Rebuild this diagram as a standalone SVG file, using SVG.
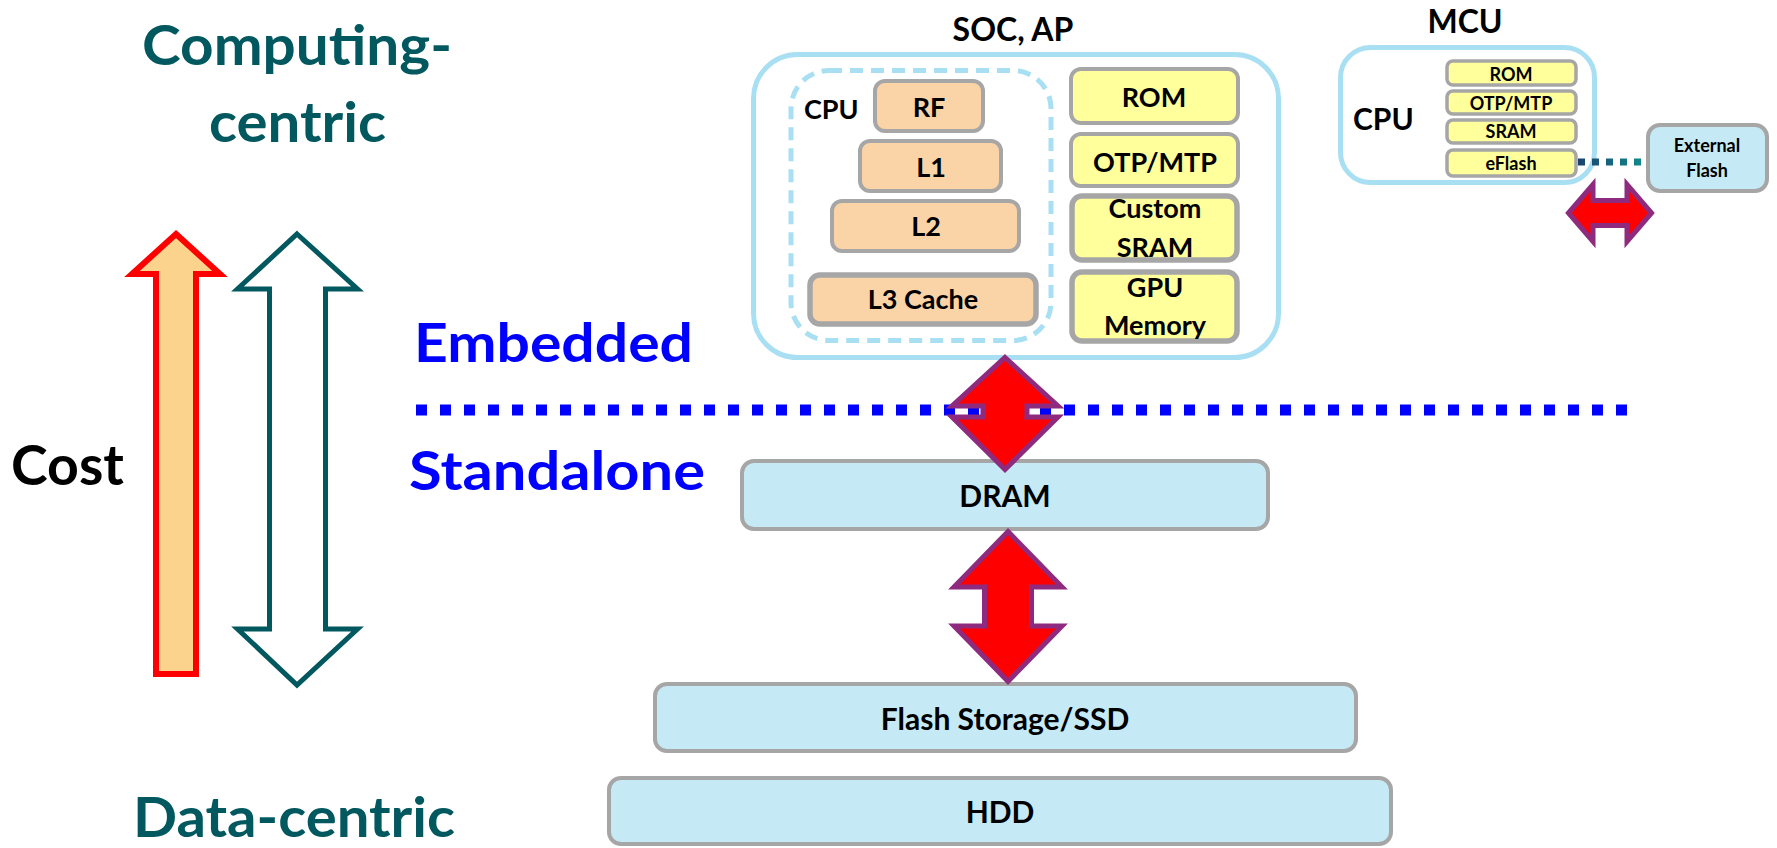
<svg xmlns="http://www.w3.org/2000/svg" width="1777" height="848" viewBox="0 0 1777 848">
<style>
text{font-family:Lato,"Open Sans","Liberation Sans",sans-serif;font-weight:bold;fill:#000}
.big{font-size:56px;fill:#02585F}
.blue{font-size:54px;fill:#0000FF}
.t27{font-size:27px;text-anchor:middle}
.t30{font-size:30px;text-anchor:middle}
.t18{font-size:18px;text-anchor:middle}
.peach{fill:#FAD4A6;stroke:#A6A6A6;stroke-width:4}
.peachT{fill:#FAD4A6;stroke:#A6A6A6;stroke-width:5.5}
.yel{fill:#FFFF9B;stroke:#A6A6A6;stroke-width:4}
.yelT{fill:#FFFF9B;stroke:#A6A6A6;stroke-width:5.5}
.yelS{fill:#FFFF9B;stroke:#A6A6A6;stroke-width:3.5}
.lb{fill:#C6EAF5;stroke:#A6A6A6;stroke-width:4}
.frame{fill:none;stroke:#A9DFF3;stroke-width:5}
.dbl{fill:#FF0000;stroke:#8E2B7F;stroke-width:5;stroke-linejoin:miter}
</style>
<defs>
<linearGradient id="dotg" gradientUnits="userSpaceOnUse" x1="1578" y1="0" x2="1646" y2="0">
<stop offset="0" stop-color="#1C416F"/>
<stop offset="1" stop-color="#0F8E8C"/>
</linearGradient>
</defs>

<g id="label-computing">
<text class="big" x="142" y="65" textLength="310" lengthAdjust="spacingAndGlyphs">Computing-</text>
<text class="big" x="209" y="142" textLength="177" lengthAdjust="spacingAndGlyphs">centric</text>
</g>
<g id="label-data">
<text class="big" x="133" y="837" textLength="322" lengthAdjust="spacingAndGlyphs">Data-centric</text>
</g>
<g id="label-cost">
<text x="11" y="485" style="font-size:56px" textLength="113" lengthAdjust="spacingAndGlyphs">Cost</text>
</g>
<g id="cost-arrow">
<polygon points="176,234 220,274 196,274 196,674 156,674 156,274 132,274" fill="#FCD38C" stroke="#FF0000" stroke-width="6"/>
</g>
<g id="centric-arrow">
<polygon points="297,234 357.5,289 325.5,289 325.5,629 357.5,629 297,685 237.5,629 269.5,629 269.5,289 237.5,289" fill="#FFFFFF" stroke="#02585F" stroke-width="5"/>
</g>
<g id="label-embedded">
<text class="blue" x="414" y="362" textLength="279" lengthAdjust="spacingAndGlyphs">Embedded</text>
</g>
<g id="label-standalone">
<text class="blue" x="409" y="490" textLength="296" lengthAdjust="spacingAndGlyphs">Standalone</text>
</g>
<g id="divider">
<line x1="416" y1="410" x2="1630" y2="410" stroke="#0000FF" stroke-width="11" stroke-dasharray="11 13"/>
</g>

<g id="soc">
<text class="t30" x="1013" y="41" style="font-size:32px">SOC, AP</text>
<rect class="frame" x="753.5" y="54.5" width="525" height="303" rx="44"/>
<g id="cpu">
<rect class="frame" x="791" y="70.5" width="260" height="270" rx="38" stroke-dasharray="13 8"/>
<text x="804" y="119" style="font-size:27px">CPU</text>
<g id="rf"><rect class="peach" x="875" y="81" width="108" height="50" rx="10"/><text class="t27" x="929" y="117">RF</text></g>
<g id="l1"><rect class="peach" x="860" y="141" width="141" height="50" rx="10"/><text class="t27" x="931" y="177">L1</text></g>
<g id="l2"><rect class="peach" x="832" y="201" width="187" height="50" rx="10"/><text class="t27" x="926" y="236">L2</text></g>
<g id="l3"><rect class="peachT" x="810" y="275" width="226" height="49" rx="10"/><text class="t27" x="923" y="309">L3 Cache</text></g>
</g>
<g id="rom"><rect class="yel" x="1071" y="69" width="167" height="54" rx="10"/><text class="t27" x="1154" y="107">ROM</text></g>
<g id="otp"><rect class="yel" x="1071" y="134" width="167" height="52" rx="10"/><text class="t27" x="1155" y="172">OTP/MTP</text></g>
<g id="sram"><rect class="yelT" x="1072" y="196" width="165" height="64" rx="10"/><text class="t27" x="1155" y="218">Custom</text><text class="t27" x="1155" y="257">SRAM</text></g>
<g id="gpu"><rect class="yelT" x="1072" y="272" width="165" height="69" rx="10"/><text class="t27" x="1155" y="297">GPU</text><text class="t27" x="1155" y="335">Memory</text></g>
</g>

<g id="mcu">
<text class="t30" x="1465" y="33" style="font-size:32px">MCU</text>
<rect class="frame" x="1340.5" y="47.5" width="254" height="135" rx="30"/>
<text x="1353" y="130" style="font-size:30px">CPU</text>
<g id="mcu-rom"><rect class="yelS" x="1447" y="61" width="129" height="24" rx="6"/><text class="t18" x="1511" y="81">ROM</text></g>
<g id="mcu-otp"><rect class="yelS" x="1447" y="91" width="129" height="23" rx="6"/><text class="t18" x="1511" y="110">OTP/MTP</text></g>
<g id="mcu-sram"><rect class="yelS" x="1447" y="120" width="129" height="23" rx="6"/><text class="t18" x="1511" y="138">SRAM</text></g>
<g id="mcu-eflash"><rect class="yelS" x="1447" y="150" width="129" height="26" rx="6"/><text class="t18" x="1511" y="170">eFlash</text></g>
</g>
<g id="ext-flash">
<rect class="lb" x="1648" y="125" width="119" height="66" rx="12"/>
<text class="t18" x="1707" y="152">External</text>
<text class="t18" x="1707" y="177">Flash</text>
</g>

<g id="dram"><rect class="lb" x="742" y="461" width="526" height="68" rx="12"/><text class="t30" x="1005" y="507">DRAM</text></g>
<g id="flash"><rect class="lb" x="655" y="684" width="701" height="67" rx="12"/><text class="t30" x="1005" y="730">Flash Storage/SSD</text></g>
<g id="hdd"><rect class="lb" x="609" y="778" width="782" height="66" rx="12"/><text class="t30" x="1000" y="823">HDD</text></g>

<g id="connectors">
<polygon class="dbl" points="1005,357.5 1058,406 1027,406 1027,417 1058,417 1005,469.5 952,417 983,417 983,406 952,406"/>
<polygon class="dbl" points="1008,531.5 1062,587 1031.5,587 1031.5,626 1062,626 1008,681.5 954,626 984.5,626 984.5,587 954,587"/>
<line x1="1578" y1="162" x2="1646" y2="162" stroke="url(#dotg)" stroke-width="7" stroke-dasharray="7 7"/>
<polygon class="dbl" points="1568.5,213 1593,184.5 1593,200.5 1627,200.5 1627,184.5 1651.5,213 1627,241.5 1627,225.5 1593,225.5 1593,241.5"/>
</g>
</svg>
